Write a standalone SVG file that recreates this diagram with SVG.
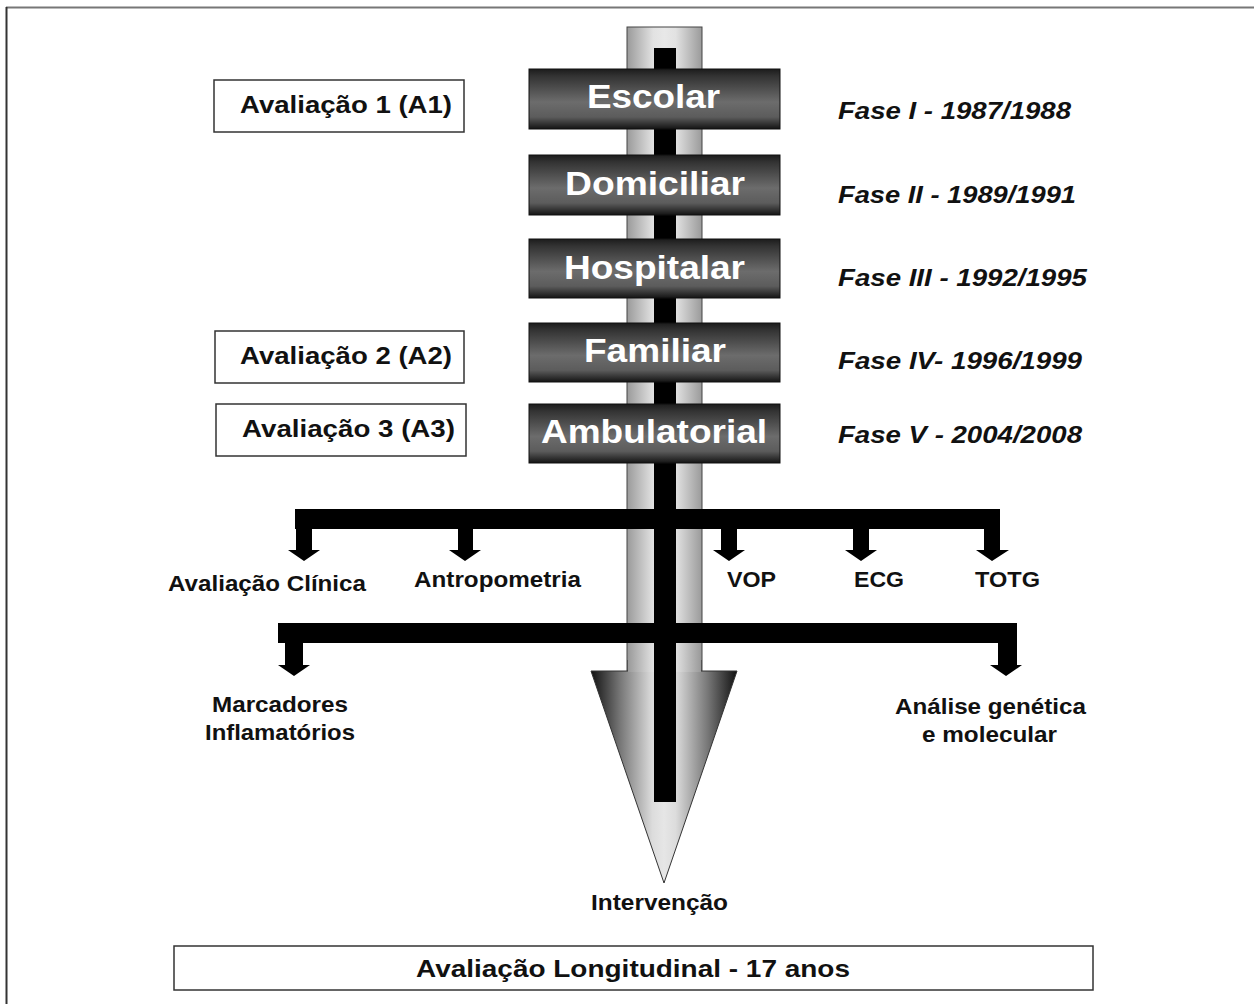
<svg xmlns="http://www.w3.org/2000/svg" width="1254" height="1004" viewBox="0 0 1254 1004">
<defs>
<linearGradient id="tubeG" x1="0" y1="0" x2="1" y2="0">
<stop offset="0" stop-color="#9a9a9a"/>
<stop offset="0.35" stop-color="#e2e2e2"/>
<stop offset="0.5" stop-color="#e8e8e8"/>
<stop offset="0.65" stop-color="#e2e2e2"/>
<stop offset="1" stop-color="#9a9a9a"/>
</linearGradient>
<linearGradient id="headG" x1="0" y1="0" x2="1" y2="0">
<stop offset="0" stop-color="#111"/>
<stop offset="0.2" stop-color="#777"/>
<stop offset="0.42" stop-color="#dcdcdc"/>
<stop offset="0.5" stop-color="#e6e6e6"/>
<stop offset="0.58" stop-color="#dcdcdc"/>
<stop offset="0.8" stop-color="#777"/>
<stop offset="1" stop-color="#111"/>
</linearGradient>
<linearGradient id="boxG" x1="0" y1="0" x2="0" y2="1">
<stop offset="0" stop-color="#1c1c1c"/>
<stop offset="0.12" stop-color="#333"/>
<stop offset="0.55" stop-color="#6c6c6c"/>
<stop offset="0.8" stop-color="#5c5c5c"/>
<stop offset="1" stop-color="#141414"/>
</linearGradient>
</defs>
<style>
.ph{font-family:"Liberation Sans",Arial,sans-serif;font-weight:bold;font-size:34px;fill:#fff}
.fase{font-family:"Liberation Sans",Arial,sans-serif;font-weight:bold;font-style:italic;font-size:23px;fill:#111}
.av{font-family:"Liberation Sans",Arial,sans-serif;font-weight:bold;font-size:24px;fill:#111}
.lb{font-family:"Liberation Sans",Arial,sans-serif;font-weight:bold;font-size:22px;fill:#111}
.bx{fill:#fff;stroke:#333;stroke-width:1.5}
.pbox{fill:url(#boxG);stroke:#111;stroke-width:1}
.blk{fill:#000}
</style>
<rect width="1254" height="1004" fill="#fff"/>
<g id="frame">
<line x1="6" y1="7.5" x2="1254" y2="7.5" stroke="#777" stroke-width="2"/>
<line x1="6.5" y1="7" x2="6.5" y2="1004" stroke="#333" stroke-width="2"/>
</g>
<g id="timeline">
<rect x="627" y="27" width="75" height="645" fill="url(#tubeG)" stroke="#444" stroke-width="1"/>
<polygon points="591,671 628,671 628,660 701,660 701,671 737,671 664,883" fill="url(#headG)" stroke="#333" stroke-width="1"/>
<rect x="628" y="650" width="73" height="22" fill="url(#tubeG)"/>
<rect x="654" y="48" width="22" height="754" class="blk"/>
</g>
<g id="connectors">
<rect x="295" y="509" width="705" height="20" class="blk"/>
<path class="blk" d="M296,529 H312 V550 H320 L304,561 L288,550 H296 Z"/>
<path class="blk" d="M458,529 H473 V550 H481 L465,561 L449,550 H458 Z"/>
<path class="blk" d="M721,529 H737 V550 H745 L729,561 L713,550 H721 Z"/>
<path class="blk" d="M853,529 H869 V550 H877 L861,561 L845,550 H853 Z"/>
<path class="blk" d="M984,529 H1000 V550 H1009 L992,561 L976,550 H984 Z"/>
<rect x="278" y="623" width="739" height="20" class="blk"/>
<path class="blk" d="M285,643 H303 V665 H310 L294,676 L278,665 H285 Z"/>
<path class="blk" d="M998,643 H1017 V665 H1022 L1006,676 L990,665 H998 Z"/>
</g>
<g id="escolar">
<rect x="529" y="69" width="251" height="60" class="pbox"/>
<text class="ph" x="587" y="108" textLength="133" lengthAdjust="spacingAndGlyphs">Escolar</text>
</g>
<g id="domiciliar">
<rect x="529" y="155" width="251" height="60" class="pbox"/>
<text class="ph" x="565" y="195" textLength="180" lengthAdjust="spacingAndGlyphs">Domiciliar</text>
</g>
<g id="hospitalar">
<rect x="529" y="239" width="251" height="59" class="pbox"/>
<text class="ph" x="564" y="279" textLength="181" lengthAdjust="spacingAndGlyphs">Hospitalar</text>
</g>
<g id="familiar">
<rect x="529" y="323" width="251" height="59" class="pbox"/>
<text class="ph" x="584" y="362" textLength="142" lengthAdjust="spacingAndGlyphs">Familiar</text>
</g>
<g id="ambulatorial">
<rect x="529" y="404" width="251" height="59" class="pbox"/>
<text class="ph" x="541" y="443" textLength="226" lengthAdjust="spacingAndGlyphs">Ambulatorial</text>
</g>
<g id="fases">
<text class="fase" x="838" y="119" textLength="233" lengthAdjust="spacingAndGlyphs">Fase I - 1987/1988</text>
<text class="fase" x="838" y="203" textLength="238" lengthAdjust="spacingAndGlyphs">Fase II - 1989/1991</text>
<text class="fase" x="838" y="286" textLength="249" lengthAdjust="spacingAndGlyphs">Fase III - 1992/1995</text>
<text class="fase" x="838" y="369" textLength="244" lengthAdjust="spacingAndGlyphs">Fase IV- 1996/1999</text>
<text class="fase" x="838" y="443" textLength="244" lengthAdjust="spacingAndGlyphs">Fase V - 2004/2008</text>
</g>
<g id="a1">
<rect x="214" y="80" width="250" height="52" class="bx"/>
<text class="av" x="240" y="113" textLength="212" lengthAdjust="spacingAndGlyphs">Avaliação 1 (A1)</text>
</g>
<g id="a2">
<rect x="215" y="331" width="249" height="52" class="bx"/>
<text class="av" x="240" y="364" textLength="212" lengthAdjust="spacingAndGlyphs">Avaliação 2 (A2)</text>
</g>
<g id="a3">
<rect x="216" y="404" width="250" height="52" class="bx"/>
<text class="av" x="242" y="437" textLength="213" lengthAdjust="spacingAndGlyphs">Avaliação 3 (A3)</text>
</g>
<g id="labels">
<text class="lb" x="168" y="591" textLength="198" lengthAdjust="spacingAndGlyphs">Avaliação Clínica</text>
<text class="lb" x="414" y="587" textLength="167" lengthAdjust="spacingAndGlyphs">Antropometria</text>
<text class="lb" x="727" y="587" textLength="49" lengthAdjust="spacingAndGlyphs">VOP</text>
<text class="lb" x="854" y="587" textLength="50" lengthAdjust="spacingAndGlyphs">ECG</text>
<text class="lb" x="975" y="587" textLength="65" lengthAdjust="spacingAndGlyphs">TOTG</text>
<text class="lb" x="212" y="712" textLength="136" lengthAdjust="spacingAndGlyphs">Marcadores</text>
<text class="lb" x="205" y="740" textLength="150" lengthAdjust="spacingAndGlyphs">Inflamatórios</text>
<text class="lb" x="895" y="714" textLength="191" lengthAdjust="spacingAndGlyphs">Análise genética</text>
<text class="lb" x="922" y="742" textLength="135" lengthAdjust="spacingAndGlyphs">e molecular</text>
<text class="lb" x="591" y="910" textLength="137" lengthAdjust="spacingAndGlyphs">Intervenção</text>
</g>
<g id="longitudinal">
<rect x="174" y="946" width="919" height="44" class="bx"/>
<text class="av" x="416" y="977" textLength="434" lengthAdjust="spacingAndGlyphs">Avaliação Longitudinal - 17 anos</text>
</g>
</svg>
